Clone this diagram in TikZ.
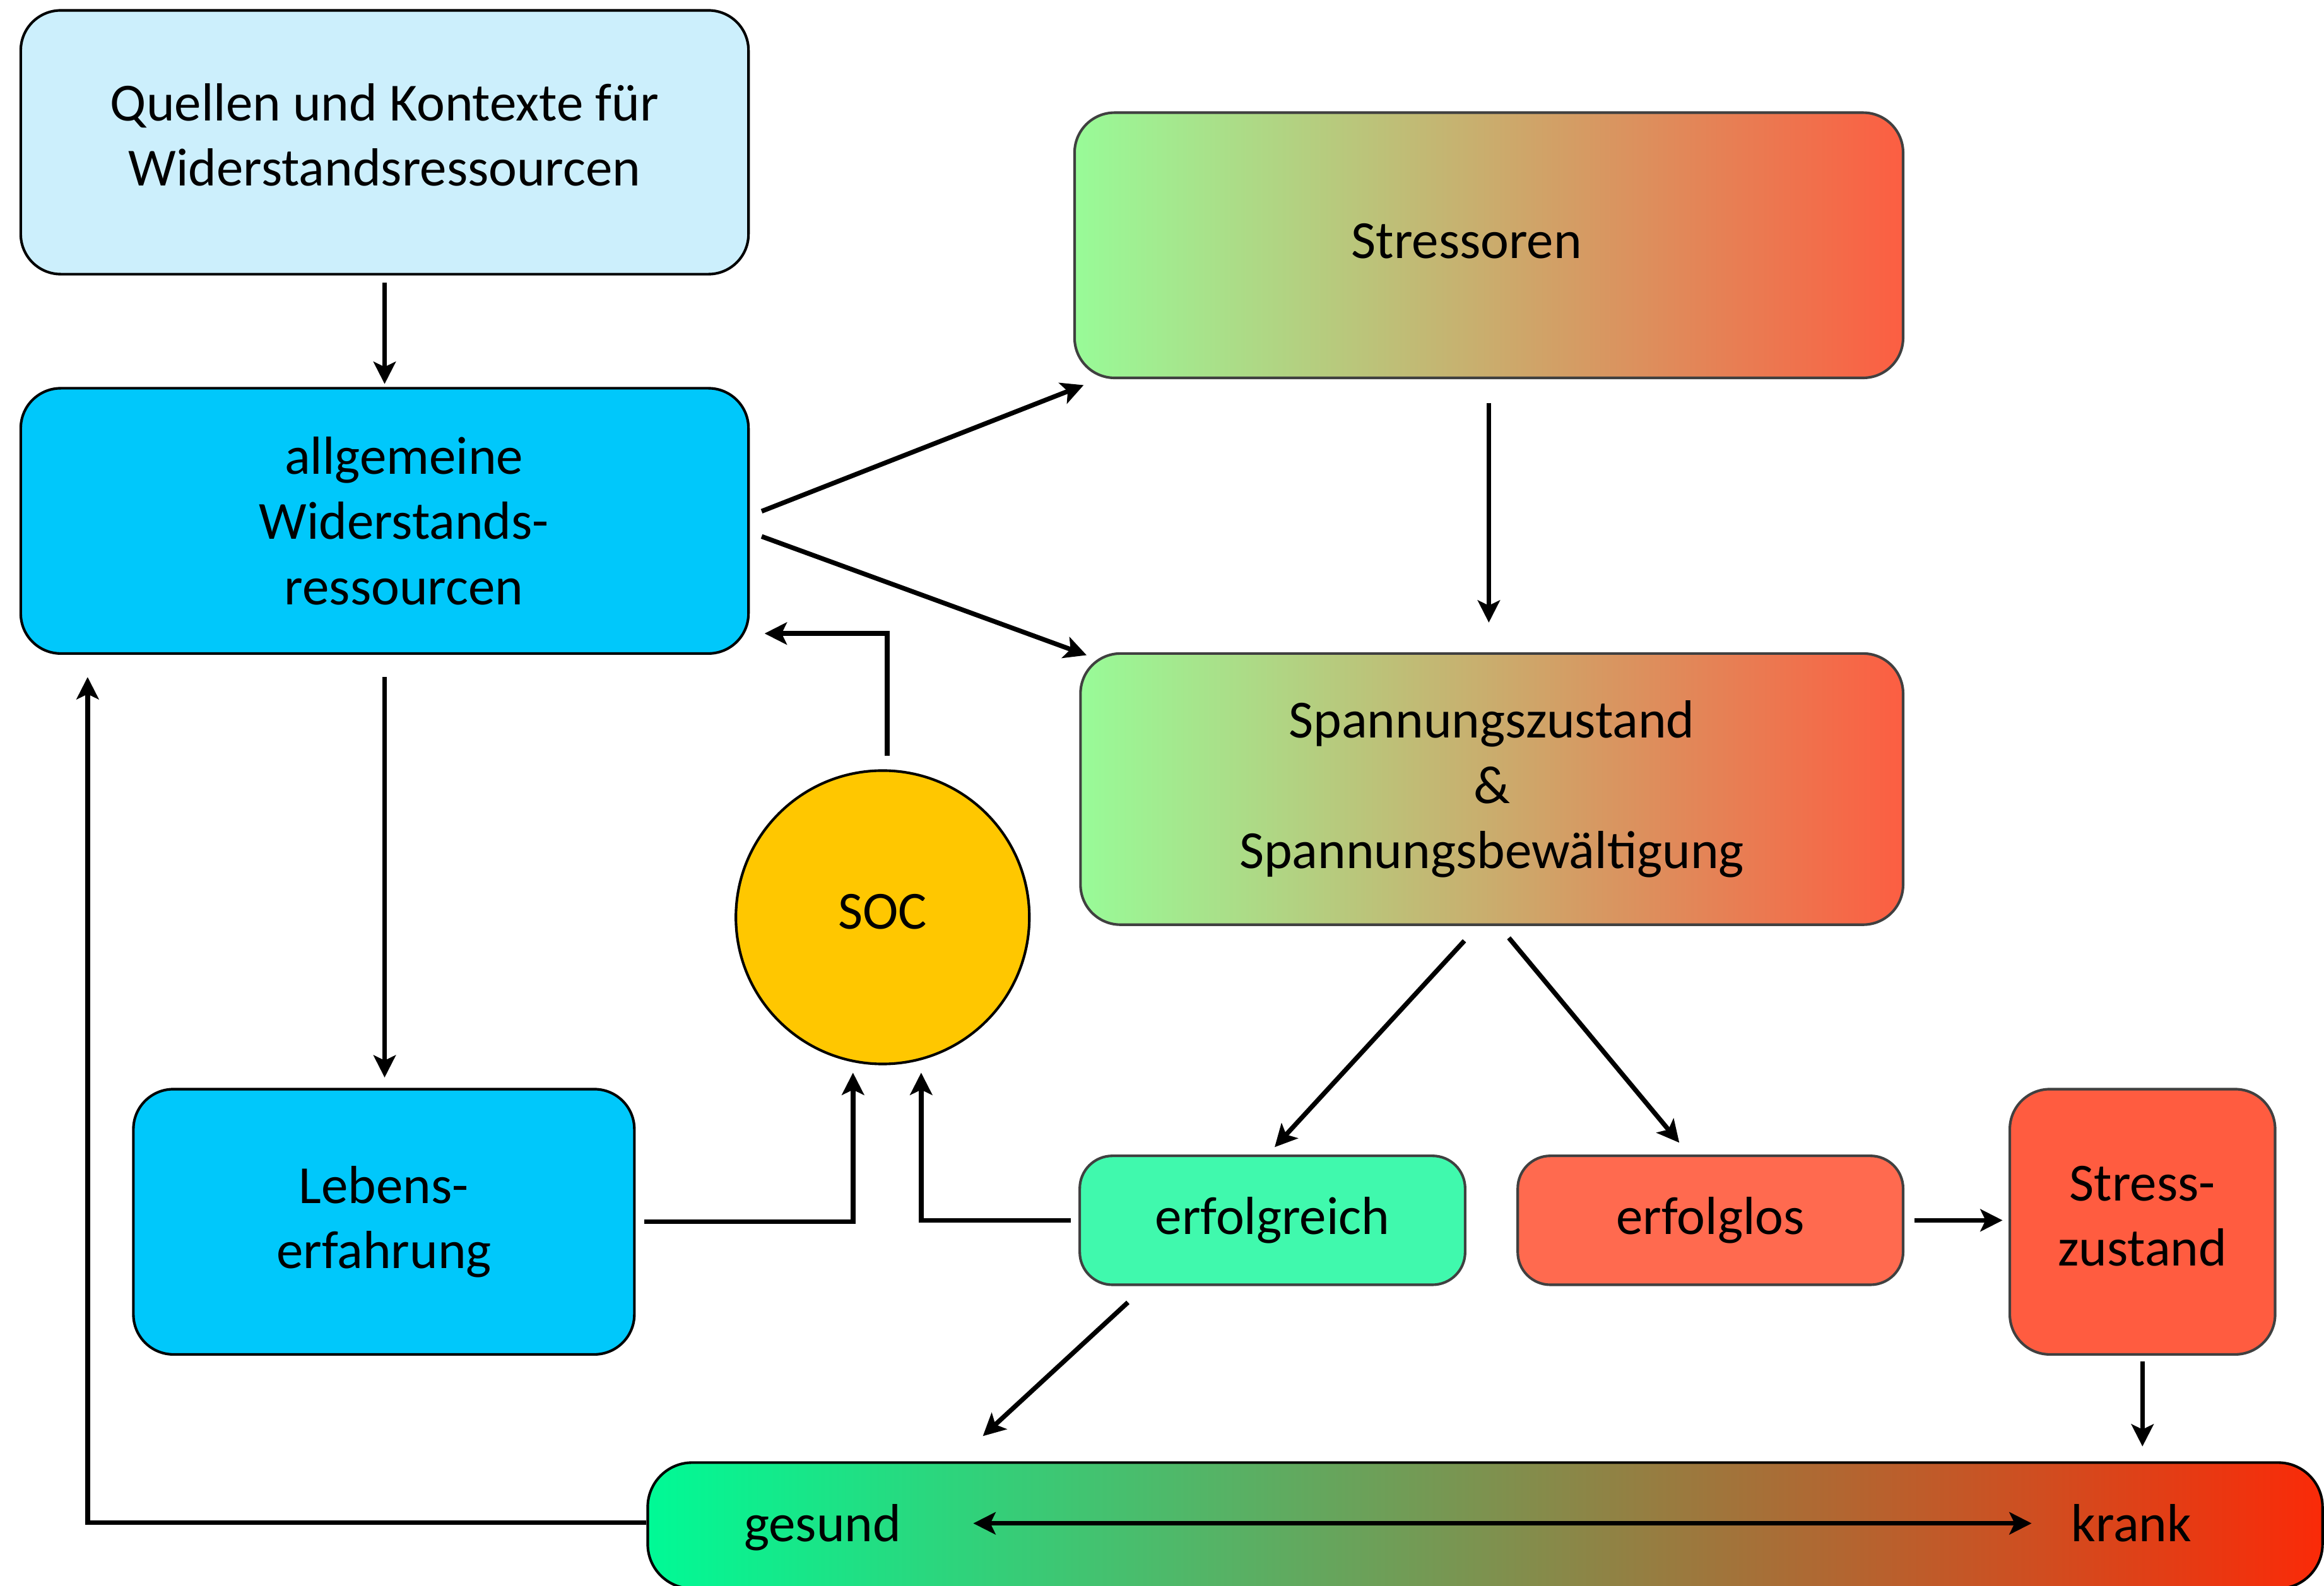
\documentclass[tikz,border=0pt]{standalone}
\usepackage{fontspec}
\setmainfont{Carlito}
\usetikzlibrary{positioning,arrows.meta,calc}
\definecolor{paleblue}{HTML}{CCEFFC}
\definecolor{skyblue}{HTML}{00C8FB}
\definecolor{palegreen}{HTML}{98FB98}
\definecolor{tomato}{HTML}{FC5E42}
\definecolor{socyellow}{HTML}{FFC700}
\definecolor{mint}{HTML}{40F9AD}
\definecolor{salmonred}{HTML}{FF6A4F}
\definecolor{stressred}{HTML}{FF5C40}
\definecolor{springgreen}{HTML}{00FA96}
\definecolor{sickred}{HTML}{FA2A08}
\definecolor{edgegray}{HTML}{404040}

\begin{document}
\begin{tikzpicture}[
  font=\fontsize{10.3}{12.5}\selectfont,
  roundbox/.style={draw=black,line width=0.5pt,rounded corners=0.27cm,align=center,inner sep=0pt},
  res/.style={roundbox,fill=skyblue},
  grad/.style={roundbox,draw=edgegray,left color=palegreen,right color=tomato},
  outcome/.style={roundbox,draw=edgegray,rounded corners=0.22cm,minimum width=2.6cm,minimum height=0.87cm},
  hd/.tip={Stealth[length=1.5mm,width=1.5mm,inset=0.35mm]},
  arr/.style={-hd,line width=0.9pt}
]
  \clip (0,0) rectangle (15.68,-10.70);
  \fill[white] (0,0) rectangle (15.68,-10.70);
  % boxes
  \node[roundbox,fill=paleblue,minimum width=4.91cm,minimum height=1.78cm,text depth=0.1cm] (quellen) at (2.595,-0.96)
    {Quellen und Kontexte für\\Widerstandsressourcen};
  \node[res,minimum width=4.91cm,minimum height=1.79cm] (allg) at (2.595,-3.515)
    {\hspace*{0.26cm}allgemeine\\\hspace*{0.26cm}Widerstands-\\\hspace*{0.26cm}ressourcen};
  \node[grad,minimum width=5.59cm,minimum height=1.79cm,text depth=0.06cm] (stressoren) at (10.045,-1.655)
    {Stressoren\hspace*{0.3cm}};
  \node[grad,minimum width=5.55cm,minimum height=1.83cm] (spannung) at (10.065,-5.325)
    {Spannungszustand\\\&\\Spannungsbewältigung};
  \node[circle,draw=black,line width=0.5pt,fill=socyellow,minimum size=1.98cm,inner sep=0pt,text depth=0.08cm] (soc) at (5.955,-6.19) {SOC};
  \node[res,minimum width=3.38cm,minimum height=1.79cm] (leben) at (2.59,-8.245) {Lebens-\\erfahrung};
  \node[outcome,fill=mint] (erfg) at (8.585,-8.235) {erfolgreich};
  \node[outcome,fill=salmonred] (erfl) at (11.54,-8.235) {erfolglos};
  \node[roundbox,draw=edgegray,fill=stressred,minimum width=1.79cm,minimum height=1.79cm,text depth=0.08cm] (stresszu) at (14.455,-8.245)
    {Stress-\\zustand};
  \node[roundbox,rounded corners=0.3cm,left color=springgreen,right color=sickred,
    minimum width=11.30cm,minimum height=0.85cm] (bar) at (10.02,-10.295) {};
  \node[inner sep=0pt] (gesund) at (5.55,-10.31) {gesund};
  \node[inner sep=0pt] (krank) at (14.38,-10.28) {krank};

  % connectors
  \draw[arr,shorten <=0.05cm,shorten >=0.02cm] (quellen.south) -- (allg.north);
  \draw[arr] ([shift={(0.08,0.065)}]allg.east) -- ([shift={(0.07,-0.04)}]stressoren.south west);
  \draw[arr] ([shift={(0.08,-0.105)}]allg.east) -- ([shift={(0.05,-0.02)}]spannung.north west);
  \draw[arr,shorten <=0.16cm,shorten >=0.2cm] (stressoren.south) -- (stressoren.south |- spannung.north);
  \draw[arr,shorten <=0.15cm,shorten >=0.07cm] (allg.south) -- (allg.south |- leben.north);
  \draw[arr] ([shift={(0.03,0.09)}]soc.north) |- ([shift={(0.1,-0.76)}]allg.east);
  \draw[arr] ([xshift=0.06cm]leben.east) -| ([shift={(-0.2,-0.05)}]soc.south);
  \draw[arr] ([xshift=-0.05cm]erfg.west) -| ([shift={(0.26,-0.05)}]soc.south);
  \draw[arr] ([shift={(-0.185,-0.1)}]spannung.south) -- ([shift={(0.015,0.05)}]erfg.north);
  \draw[arr] ([shift={(0.115,-0.08)}]spannung.south) -- ([shift={(-0.21,0.08)}]erfl.north);
  \draw[arr,shorten <=0.07cm,shorten >=0.04cm] (erfl.east) -- (erfl.east -| stresszu.west);
  \draw[arr] ([shift={(-0.975,-0.11)}]erfg.south) -- ([shift={(2.27,0.17)}]bar.north west);
  \draw[arr,shorten <=0.04cm,shorten >=0.1cm] (stresszu.south) -- (stresszu.south |- bar.north);
  \draw[arr] ([yshift=0.02cm]bar.west) -| ([shift={(0.46,-0.15)}]allg.south west);
  \draw[arr,hd-hd] ($(gesund.east |- krank.west)+(0.48,0)$) -- ([xshift=-0.26cm]krank.west);
\end{tikzpicture}
\end{document}
